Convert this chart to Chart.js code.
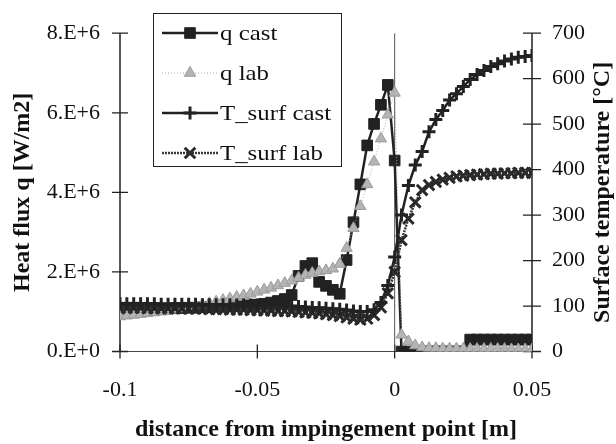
<!DOCTYPE html>
<html><head><meta charset="utf-8">
<script src="https://cdn.jsdelivr.net/npm/chart.js@4/dist/chart.umd.min.js"></script>
<style>html,body{margin:0;padding:0;background:#fff}#wrap{width:616px;height:444px;position:relative}</style>
</head><body><div id="wrap"><canvas id="c" width="616" height="444"></canvas></div>
<script>
// ---- data ----
const xs = [-0.1,-0.0975,-0.095,-0.0925,-0.09,-0.0875,-0.085,-0.0825,-0.08,-0.0775,
  -0.075,-0.0725,-0.07,-0.0675,-0.065,-0.0625,-0.06,-0.0575,-0.055,-0.0525,
  -0.05,-0.0475,-0.045,-0.0425,-0.04,-0.0375,-0.035,-0.0325,-0.03,-0.0275,
  -0.025,-0.0225,-0.02,-0.0175,-0.015,-0.0125,-0.01,-0.0075,-0.005,-0.0025,
  0,0.0025,0.005,0.0075,0.01,0.0125,0.015,0.0175,0.02,0.0225,
  0.025,0.0275,0.03,0.0325,0.035,0.0375,0.04,0.0425,0.045,0.0475,0.05];
const qCast = [1.05e6,1.05e6,1.06e6,1.06e6,1.07e6,1.07e6,1.08e6,1.08e6,1.09e6,1.09e6,
  1.10e6,1.10e6,1.11e6,1.11e6,1.12e6,1.12e6,1.13e6,1.14e6,1.15e6,1.16e6,
  1.18e6,1.20e6,1.23e6,1.27e6,1.32e6,1.42e6,1.90e6,2.15e6,2.22e6,1.75e6,
  1.65e6,1.55e6,1.45e6,2.30e6,3.25e6,4.20e6,5.18e6,5.72e6,6.20e6,6.70e6,
  4.80e6,0,0,0,0,0,0,0,0,0,
  0,0.3e6,0.3e6,0.3e6,0.3e6,0.3e6,0.3e6,0.3e6,0.3e6,0.3e6,0.3e6];
const qLab = [0.88e6,0.90e6,0.92e6,0.94e6,0.96e6,0.98e6,1.00e6,1.02e6,1.05e6,1.08e6,
  1.11e6,1.14e6,1.17e6,1.21e6,1.25e6,1.29e6,1.33e6,1.37e6,1.41e6,1.45e6,
  1.50e6,1.55e6,1.60e6,1.66e6,1.72e6,1.78e6,1.85e6,1.92e6,1.97e6,2.01e6,
  2.04e6,2.08e6,2.20e6,2.60e6,3.10e6,3.65e6,4.20e6,4.77e6,5.35e6,5.95e6,
  6.50e6,0.42e6,0.25e6,0.15e6,0.10e6,0.08e6,0.08e6,0.07e6,0.07e6,0.07e6,
  0.07e6,0.06e6,0.06e6,0.06e6,0.06e6,0.06e6,0.06e6,0.05e6,0.05e6,0.05e6,0.05e6];
const tCast = [105,105,105,105,105,105,104,104,104,104,
  104,104,103,103,103,103,103,102,102,102,
  102,101,101,101,100,100,99,98,97,96,
  95,94,93,91,89,88,88,92,108,145,
  208,300,365,410,440,483,510,530,553,567,
  583,598,609,618,627,633,639,643,647,649,651];
const tLab = [96,96,96,96,95,95,95,95,95,94,
  94,94,94,93,93,93,92,92,92,91,
  91,90,90,89,89,88,87,86,85,84,
  82,80,78,75,72,70,72,80,97,128,
  175,245,292,328,355,366,373,378,382,385,
  387,388,389,390,391,391,392,392,393,393,393];
const seriesNames = ['q cast','q lab','T_surf cast','T_surf lab'];
const impingementX = [0, 0];
const impingementQ = [0, 8e6];
const xTickValues = [-0.1,-0.05,0,0.05];
const xTickLabels = ['-0.1','-0.05','0','0.05'];
const qTickValues = [0,2e6,4e6,6e6,8e6];
const qTickLabels = ['0.E+0','2.E+6','4.E+6','6.E+6','8.E+6'];
const tTickValues = [0,100,200,300,400,500,600,700];
const tTickLabels = ['0','100','200','300','400','500','600','700'];
const rightTitle = 'Surface temperature [°C]';

const SERIF = '"Liberation Serif", "Times New Roman", serif';
const pts = (ys) => xs.map((x,i)=>({x, y: ys[i]}));

const axisPlugin = {
  id:'axisLines',
  beforeDatasetsDraw(chart){
    const {ctx, chartArea:a, scales} = chart;
    ctx.save();
    ctx.strokeStyle = '#222';
    ctx.lineWidth = 1.5;
    ctx.beginPath();
    ctx.moveTo(a.left, a.top); ctx.lineTo(a.left, a.bottom);
    ctx.moveTo(a.right, a.top); ctx.lineTo(a.right, a.bottom);
    ctx.stroke();
    ctx.lineWidth = 1;
    ctx.strokeStyle = '#444';
    ctx.beginPath();
    ctx.moveTo(a.left, a.bottom); ctx.lineTo(a.right, a.bottom);
    ctx.stroke();
    ctx.lineWidth = 1.3;
    ctx.strokeStyle = '#222';
    ctx.beginPath();
    scales.y.ticks.forEach(t=>{const p = scales.y.getPixelForValue(t.value); ctx.moveTo(a.left-8,p); ctx.lineTo(a.left+8,p);});
    scales.y2.ticks.forEach(t=>{const p = scales.y2.getPixelForValue(t.value); ctx.moveTo(a.right-9,p); ctx.lineTo(a.right+9,p);});
    scales.x.ticks.forEach(t=>{const p = scales.x.getPixelForValue(t.value); ctx.moveTo(p,a.bottom-7); ctx.lineTo(p,a.bottom+7);});
    ctx.stroke();
    ctx.restore();
  }
};

const rightTitlePlugin = {
  id:'rightTitle',
  afterDraw(chart){
    const {ctx, chartArea:a} = chart;
    ctx.save();
    ctx.fillStyle = '#111';
    ctx.font = 'bold 24px ' + SERIF;
    ctx.textAlign = 'center';
    ctx.textBaseline = 'middle';
    ctx.translate(603, (a.top + a.bottom) / 2);
    ctx.rotate(-Math.PI / 2);
    ctx.fillText(rightTitle, 0, 0);
    ctx.restore();
  }
};

const legendPlugin = {
  id:'boxLegend',
  afterDraw(chart){
    const ctx = chart.ctx;
    const L = 153, T = 13, W = 188, H = 153;
    ctx.save();
    ctx.fillStyle = '#fff';
    ctx.fillRect(L, T, W, H);
    ctx.strokeStyle = '#222';
    ctx.lineWidth = 1;
    ctx.strokeRect(L+0.5, T+0.5, W, H);
    const items = chart.data.datasets.filter(d => d.inLegend);
    items.forEach((ds, i) => {
      const y = T + 20 + i*40;
      ctx.save();
      ctx.strokeStyle = ds.borderColor;
      ctx.lineWidth = ds.legendLineWidth || ds.borderWidth;
      ctx.setLineDash(ds.borderDash || []);
      ctx.beginPath(); ctx.moveTo(162, y); ctx.lineTo(218, y); ctx.stroke();
      ctx.setLineDash([]);
      ctx.fillStyle = ds.pointBackgroundColor;
      ctx.strokeStyle = ds.pointBorderColor;
      ctx.lineWidth = ds.pointBorderWidth;
      Chart.helpers.drawPoint(ctx, {pointStyle: ds.pointStyle, rotation: 0, radius: ds.pointRadius, borderWidth: ds.pointBorderWidth}, 190, y);
      ctx.restore();
      ctx.save();
      ctx.fillStyle = '#111';
      ctx.font = '22px ' + SERIF;
      ctx.textBaseline = 'middle';
      ctx.translate(220, y + 1);
      ctx.scale(1.13, 1);
      ctx.fillText(ds.label, 0, 0);
      ctx.restore();
    });
    ctx.restore();
  }
};

new Chart(document.getElementById('c'), {
  type: 'scatter',
  data: {
    datasets: [
      { label: 'impingement', inLegend: false, data: impingementX.map((x,i)=>({x, y: impingementQ[i]})),
        showLine: true, borderColor: '#555', borderWidth: 1, pointRadius: 0, yAxisID: 'y', order: 10 },
      { label: seriesNames[0], inLegend: true, data: pts(qCast), showLine: true, yAxisID: 'y', order: 5,
        borderColor: '#222', borderWidth: 2.5, legendLineWidth: 2.5,
        pointStyle: 'rect', pointRadius: 7.5, pointBackgroundColor: '#222', pointBorderColor: '#222', pointBorderWidth: 1 },
      { label: seriesNames[1], inLegend: true, data: pts(qLab), showLine: true, yAxisID: 'y', order: 4,
        borderColor: '#aaa', borderWidth: 1, borderDash: [1,2],
        pointStyle: 'triangle', pointRadius: 6.5, pointBackgroundColor: '#b4b4b4', pointBorderColor: '#9a9a9a', pointBorderWidth: 1 },
      { label: seriesNames[2], inLegend: true, data: pts(tCast), showLine: true, yAxisID: 'y2', order: 2,
        borderColor: '#222', borderWidth: 2.5, legendLineWidth: 2.5,
        pointStyle: 'cross', pointRadius: 6.5, pointBackgroundColor: '#222', pointBorderColor: '#222', pointBorderWidth: 3 },
      { label: seriesNames[3], inLegend: true, data: pts(tLab), showLine: true, yAxisID: 'y2', order: 3,
        borderColor: '#3a3a3a', borderWidth: 2.5, borderDash: [2,1], legendLineWidth: 2.5,
        pointStyle: 'crossRot', pointRadius: 7.5, pointBackgroundColor: '#2a2a2a', pointBorderColor: '#2a2a2a', pointBorderWidth: 3 }
    ]
  },
  options: {
    responsive: false,
    animation: false,
    devicePixelRatio: 1,
    layout: { padding: { top: 17, left: 0, right: 0, bottom: 0 } },
    plugins: { legend: { display: false }, tooltip: { enabled: false } },
    elements: { line: { tension: 0 } },
    scales: {
      x: {
        type: 'linear', position: 'bottom', min: -0.1, max: 0.05,
        afterBuildTicks: s => { s.ticks = xTickValues.map(v => ({value: v})); },
        afterFit: s => { s.height = 92.5; },
        ticks: { callback: (v, i) => xTickLabels[i], font: { family: SERIF, size: 22 }, color: '#111', padding: 26, maxRotation: 0, autoSkip: false },
        grid: { display: false, drawTicks: false }, border: { display: false },
        title: { display: true, text: 'distance from impingement point [m]', color: '#111',
          font: { family: SERIF, size: 24, weight: 'bold' }, padding: { top: 0, bottom: 0 } }
      },
      y: {
        type: 'linear', position: 'left', min: 0, max: 8e6,
        afterBuildTicks: s => { s.ticks = qTickValues.map(v => ({value: v})); },
        afterFit: s => { s.width = 120; },
        ticks: { callback: (v, i) => qTickLabels[i], font: { family: SERIF, size: 22 }, color: '#111', padding: 20, autoSkip: false },
        grid: { display: false, drawTicks: false }, border: { display: false },
        title: { display: true, text: 'Heat flux q [W/m2]', color: '#111',
          font: { family: SERIF, size: 24, weight: 'bold' }, padding: { top: 8, bottom: 0 } }
      },
      y2: {
        type: 'linear', position: 'right', min: 0, max: 700,
        afterBuildTicks: s => { s.ticks = tTickValues.map(v => ({value: v})); },
        afterFit: s => { s.width = 84; },
        ticks: { callback: (v, i) => tTickLabels[i], font: { family: SERIF, size: 22 }, color: '#111', padding: 20, autoSkip: false },
        grid: { display: false, drawTicks: false }, border: { display: false },
        title: { display: false }
      }
    }
  },
  plugins: [axisPlugin, legendPlugin, rightTitlePlugin]
});
</script>
</body></html>
